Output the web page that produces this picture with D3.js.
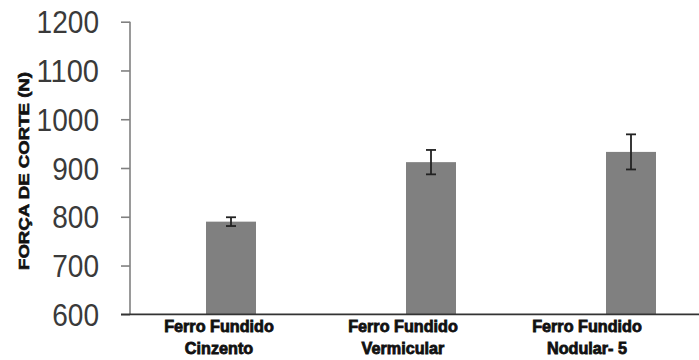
<!DOCTYPE html>
<html>
<head>
<meta charset="utf-8">
<script src="https://cdn.jsdelivr.net/npm/d3@7"></script>
<style>
  html, body { margin: 0; padding: 0; background: #fff; }
  svg { display: block; }
</style>
</head>
<body>
<svg id="chart" width="699" height="360"></svg>
<script>
// Cutting force by cast iron type
const categories = ["cinzento", "vermicular", "nodular"];
const labelLines = [
  ["Ferro Fundido", "Cinzento"],
  ["Ferro Fundido", "Vermicular"],
  ["Ferro Fundido", "Nodular- 5"]
];
const forces = [790, 912, 933];
const errors = [9, 25, 36];
const yTicks = [600, 700, 800, 900, 1000, 1100, 1200];
const yTitle = "FORÇA DE CORTE (N)";

const svg = d3.select("#chart");

const y = d3.scaleLinear().domain([600, 1200]).range([314.3, 21.7]);
const x = d3.scaleBand().domain(categories).range([131, 731])
  .paddingInner(0.75).paddingOuter(0.375);
const xLabel = d3.scalePoint().domain(categories).range([219, 587]);

// bars
svg.append("g").selectAll("rect")
  .data(categories)
  .join("rect")
  .attr("x", d => x(d))
  .attr("width", x.bandwidth())
  .attr("y", (d, i) => y(forces[i]))
  .attr("height", (d, i) => y(600) - y(forces[i]))
  .attr("fill", "#808080");

// error bars
const eb = svg.append("g").attr("stroke", "#222").attr("stroke-width", 1.8);
categories.forEach((c, i) => {
  const cx = x(c) + x.bandwidth() / 2;
  const top = y(forces[i] + errors[i]);
  const bot = y(forces[i] - errors[i]);
  eb.append("line").attr("x1", cx).attr("x2", cx).attr("y1", top).attr("y2", bot);
  eb.append("line").attr("x1", cx - 5).attr("x2", cx + 5).attr("y1", top).attr("y2", top);
  eb.append("line").attr("x1", cx - 5).attr("x2", cx + 5).attr("y1", bot).attr("y2", bot);
});

// y axis
const yAxis = svg.append("g")
  .attr("transform", "translate(130,0)")
  .call(d3.axisLeft(y).tickValues(yTicks).tickSize(9).tickPadding(22).tickFormat(d3.format("d")));
yAxis.select(".domain").attr("stroke", "#808080").attr("stroke-width", 1.6)
  .attr("d", `M0,${y(1200)}V${y(600)}`);
yAxis.selectAll(".tick line").attr("stroke", "#808080").attr("stroke-width", 1.6);
yAxis.selectAll(".tick text")
  .attr("fill", "#3a3a3a")
  .attr("font-family", "'Liberation Sans', Arial, sans-serif")
  .attr("font-size", 31)
  .attr("dy", "0.36em")
  .attr("textLength", d => String(d).length * 15.6)
  .attr("lengthAdjust", "spacingAndGlyphs");

// x baseline
svg.append("line")
  .attr("x1", 121).attr("x2", 699)
  .attr("y1", y(600)).attr("y2", y(600))
  .attr("stroke", "#333").attr("stroke-width", 1.8);

// category labels
const lab = svg.append("g")
  .attr("font-family", "'Liberation Sans', Arial, sans-serif")
  .attr("font-weight", "bold")
  .attr("font-size", 16.2)
  .attr("fill", "#111")
  .attr("stroke", "#111")
  .attr("stroke-width", 0.8)
  .attr("text-anchor", "middle");
categories.forEach((c, i) => {
  labelLines[i].forEach((t, j) => {
    lab.append("text")
      .attr("x", xLabel(c))
      .attr("y", 332 + j * 22)
      .text(t);
  });
});

// y axis title
svg.append("text")
  .attr("transform", "translate(29,171) rotate(-90)")
  .attr("text-anchor", "middle")
  .attr("font-family", "'Liberation Sans', Arial, sans-serif")
  .attr("font-weight", "bold")
  .attr("font-size", 15)
  .attr("fill", "#111")
  .attr("stroke", "#111")
  .attr("stroke-width", 0.6)
  .attr("textLength", 198)
  .attr("lengthAdjust", "spacingAndGlyphs")
  .text(yTitle);
</script>
</body>
</html>
